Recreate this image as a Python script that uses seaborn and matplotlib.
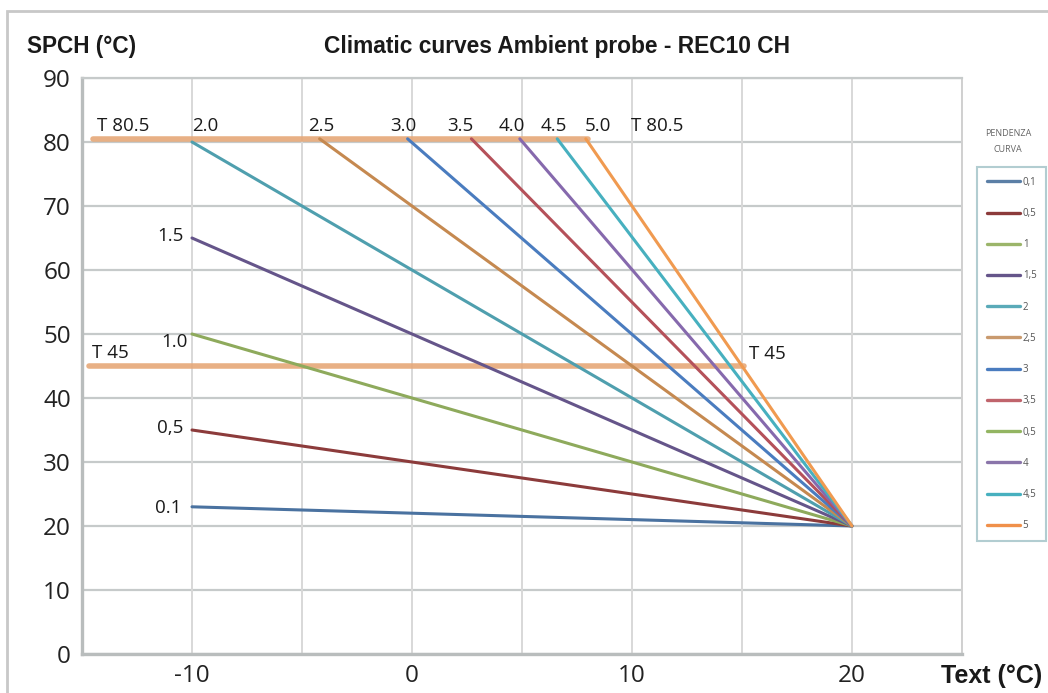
import pandas as pd
import matplotlib.pyplot as plt
import seaborn as sns
from matplotlib.lines import Line2D
from matplotlib.patches import Rectangle

# Curve data (start point; every curve ends at Text 20 / SPCH 20)
curve_names = ["0.1", "0,5", "1.0", "1.5", "2.0", "2.5", "3.0", "3.5", "4.0", "4.5", "5.0"]
start_text = [-10, -10, -10, -10, -10, -4.2, -0.2, 2.7, 4.9, 6.6, 7.9]
start_spch = [23, 35, 50, 65, 80, 80.5, 80.5, 80.5, 80.5, 80.5, 80.5]
end_text = 20
end_spch = 20
curve_colors = ["#4a72a0", "#8c3b3b", "#8eaa5c", "#65558a", "#4f9fae", "#c58950",
                "#4a7cbf", "#b5515a", "#8669ad", "#47b0bf", "#f09a50"]

# Limit lines (T 80.5 and T 45)
limit_names = ["T 80.5", "T 45"]
limit_values = [80.5, 45]
limit_start = [-14.5, -14.7]
limit_end = [8.0, 15.1]

# Legend entries (as in the original chart box)
legend_labels = ["0,1", "0,5", "1", "1,5", "2", "2,5", "3", "3,5", "0,5", "4", "4,5", "5"]
legend_colors = ["#5b7fa6", "#8c3b3b", "#9bb56a", "#65558a", "#5aaab8", "#c99a6e",
                 "#4a7cbf", "#c0646c", "#93b562", "#8a75aa", "#47b0bf", "#f0904a"]

# Axis ticks
x_ticks = [-15, -10, -5, 0, 5, 10, 15, 20, 25]
x_tick_labels = ["", "-10", "", "0", "", "10", "", "20", ""]
y_ticks = [0, 10, 20, 30, 40, 50, 60, 70, 80, 90]

rows = []
for name, sx, sy in zip(curve_names, start_text, start_spch):
    rows.append({"curve": name, "Text": sx, "SPCH": sy})
    rows.append({"curve": name, "Text": end_text, "SPCH": end_spch})
df = pd.DataFrame(rows)

lim_rows = []
for name, v, a, b in zip(limit_names, limit_values, limit_start, limit_end):
    lim_rows.append({"limit": name, "Text": a, "SPCH": v})
    lim_rows.append({"limit": name, "Text": b, "SPCH": v})
df_lim = pd.DataFrame(lim_rows)

sns.set_theme(style="white")
plt.rcParams["font.family"] = ["Open Sans", "DejaVu Sans"]

fig = plt.figure(figsize=(10.48, 6.93), dpi=100)
ax = fig.add_axes([82 / 1048, 39 / 693, 880 / 1048, 576 / 693])

# Grid
for y in y_ticks:
    ax.axhline(y, color="#c6caca", lw=1.6, zorder=0)
for x in x_ticks:
    ax.axvline(x, color="#d8d8d8", lw=1.4, zorder=0)

sns.lineplot(data=df_lim, x="Text", y="SPCH", hue="limit",
             palette={n: "#e6a878" for n in limit_names}, linewidth=4,
             alpha=0.9, legend=False, ax=ax, sort=False, zorder=2)
sns.lineplot(data=df, x="Text", y="SPCH", hue="curve",
             palette=dict(zip(curve_names, curve_colors)), linewidth=2.2,
             legend=False, ax=ax, sort=False, zorder=3)

ax.set_xlim(-15, 25)
ax.set_ylim(0, 90)
ax.set_xticks(x_ticks)
ax.set_xticklabels(x_tick_labels)
ax.set_yticks(y_ticks)
ax.tick_params(axis="both", length=0, labelsize=17.5, colors="#222222")
ax.tick_params(axis="y", pad=8)
ax.tick_params(axis="x", pad=7)
ax.set_xlabel("")
ax.set_ylabel("")
for s in ["left", "bottom"]:
    ax.spines[s].set_color("#b9bdbd")
    ax.spines[s].set_linewidth(2.4)
ax.spines["top"].set_color("#c6caca")
ax.spines["top"].set_linewidth(1.6)
ax.spines["right"].set_color("#d0d0d0")
ax.spines["right"].set_linewidth(1.4)

# Curve labels
lab = dict(fontsize=13.5, color="#1a1a1a")
top_labels = [("T 80.5", -14.3), ("2.0", -10.0), ("2.5", -4.7), ("3.0", -1.0), ("3.5", 1.6),
              ("4.0", 3.95), ("4.5", 5.85), ("5.0", 7.85), ("T 80.5", 9.95)]
for t, x in top_labels:
    ax.text(x, 81.7, t, ha="left", va="baseline", **lab)
left_labels = [("1.5", -10.4, 65.3), ("1.0", -10.2, 48.8), ("0,5", -10.4, 35.3), ("0.1", -10.5, 22.8)]
for t, x, y in left_labels:
    ax.text(x, y, t, ha="right", va="center", **lab)
ax.text(-14.55, 47.0, "T 45", ha="left", va="center", **lab)
ax.text(15.3, 46.8, "T 45", ha="left", va="center", **lab)

# Titles
bold = ["Liberation Sans", "DejaVu Sans"]
fig.text(27 / 1048, 1 - 47 / 693, "SPCH (°C)", fontsize=16.3, fontweight="bold",
         family=bold, ha="left", va="center", color="#1a1a1a")
fig.text(557 / 1048, 1 - 47 / 693, "Climatic curves Ambient probe - REC10 CH", fontsize=16.4,
         fontweight="bold", family=bold, ha="center", va="center", color="#1a1a1a")
fig.text(1042 / 1048, 1 - 676 / 693, "Text (°C)", fontsize=18, fontweight="bold",
         family=bold, ha="right", va="center", color="#1a1a1a")

# Legend
handles = [Line2D([0], [0], color=c, lw=2.4) for c in legend_colors]
leg = fig.legend(handles, legend_labels, loc="upper left",
                 bbox_to_anchor=(977 / 1048, 1 - 167 / 693), fontsize=7,
                 labelspacing=2.08, handlelength=3.4, handletextpad=0.3,
                 borderpad=1.0, borderaxespad=0, frameon=True, fancybox=False)
leg.get_frame().set_edgecolor("#9fc1c6")
leg.get_frame().set_linewidth(1.5)
for t in leg.get_texts():
    t.set_color("#555555")
fig.text(1008 / 1048, 1 - 142 / 693, "PENDENZA\nCURVA", fontsize=6.5, ha="center",
         va="center", color="#666666", linespacing=2.0)

# Outer frame
fig.patches.append(Rectangle((7 / 1048, -0.1), 1.2, 1.1 - 11 / 693,
                             transform=fig.transFigure, fill=False,
                             edgecolor="#c8c8c8", lw=2))

fig.savefig("out.png", dpi=100)
